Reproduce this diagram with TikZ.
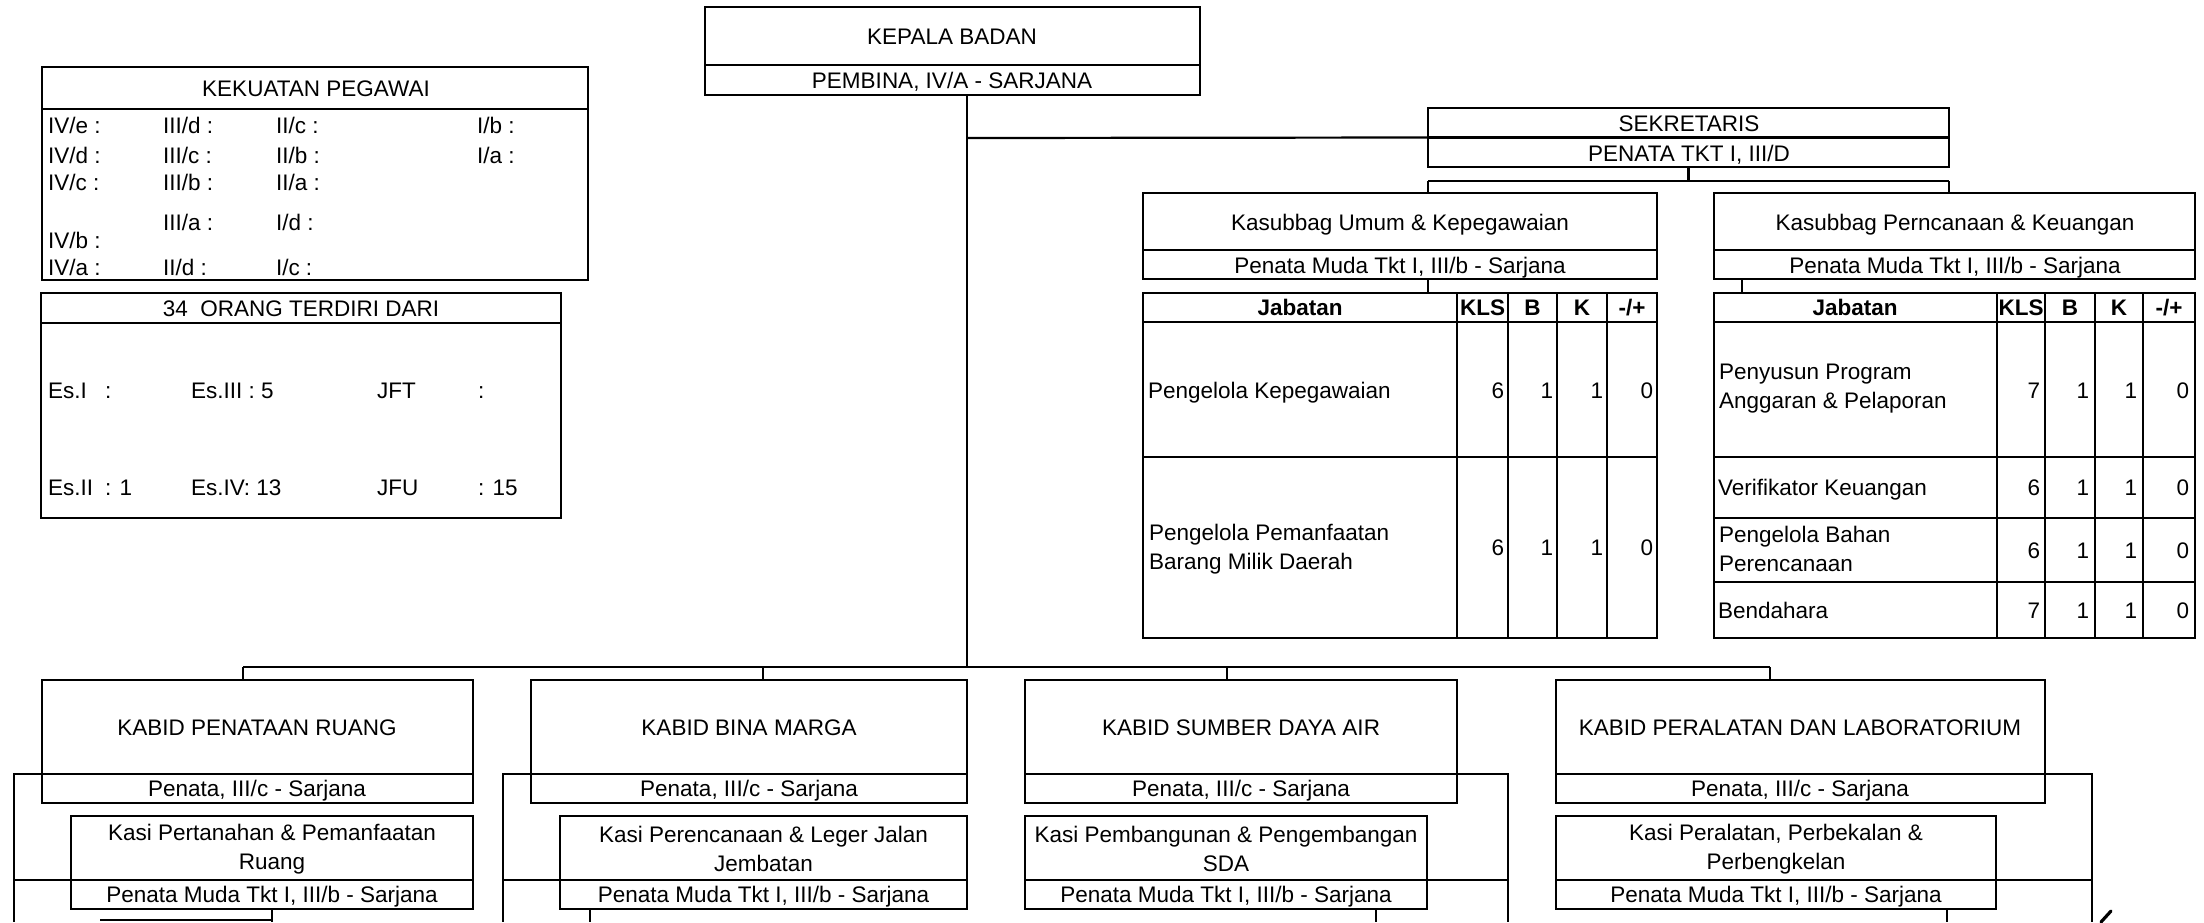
\documentclass[tikz,border=0pt]{standalone}
\usepackage{fontspec}
\setmainfont{Liberation Sans}
\usetikzlibrary{fit,calc}
\newcommand\myfs{\fontsize{11.25}{14.5}\selectfont}
\begin{document}
\begin{tikzpicture}[x=0.5pt,y=-0.5pt,line width=1.1pt,
  bx/.style={draw,inner sep=0pt,outer sep=0pt},
  t/.style={inner sep=0pt,outer sep=0pt,font=\myfs,text height=8pt,text depth=0pt},
  tl/.style={t,anchor=west},
  tr/.style={t,anchor=east},
  tb/.style={t,font=\myfs\bfseries},
  mc/.style={inner sep=0pt,font=\myfs,align=center},
  ml/.style={inner sep=0pt,font=\myfs,align=left,anchor=west}]
\fill[white] (0,0) rectangle (2204,922);
\useasboundingbox (0,0) rectangle (2204,922);

% ---------- KEPALA BADAN ----------
\node[bx,fit={(705,7)(1200,95)}] (kep) {};
\draw (kep.west |- 0,65) -- (kep.east |- 0,65);
\node[t] (kepT) at (952,36) {KEPALA BADAN};
\node[t] (kepS) at (952,80) {PEMBINA, IV/A - SARJANA};

% ---------- KEKUATAN PEGAWAI ----------
\node[bx,fit={(42,67)(588,280)}] (kek) {};
\draw (kek.west |- 0,109) -- (kek.east |- 0,109);
\node[t] (kekT) at (316,88) {KEKUATAN PEGAWAI};
\node[tl] (k1a) at (48,125) {IV/e :};
\node[tl] (k1b) at (163,125) {III/d :};
\node[tl] (k1c) at (276,125) {II/c :};
\node[tl] (k1d) at (477,125) {I/b :};
\node[tl] (k2a) at (48,155) {IV/d :};
\node[tl] (k2b) at (163,155) {III/c :};
\node[tl] (k2c) at (276,155) {II/b :};
\node[tl] (k2d) at (477,155) {I/a :};
\node[tl] (k3a) at (48,182) {IV/c :};
\node[tl] (k3b) at (163,182) {III/b :};
\node[tl] (k3c) at (276,182) {II/a :};
\node[tl] (k4b) at (163,222) {III/a :};
\node[tl] (k4c) at (276,222) {I/d :};
\node[tl] (k5a) at (48,240) {IV/b :};
\node[tl] (k6a) at (48,267) {IV/a :};
\node[tl] (k6b) at (163,267) {II/d :};
\node[tl] (k6c) at (276,267) {I/c :};

% ---------- 34 ORANG ----------
\node[bx,fit={(41,293)(561,518)}] (org) {};
\draw (org.west |- 0,323) -- (org.east |- 0,323);
\node[t] (orgT) at (301,308) {34\ \ ORANG TERDIRI DARI};
\node[tl] (o1a) at (48,390) {Es.I};
\node[tl] (o1b) at (105,390) {:};
\node[tl] (o1c) at (191,390) {Es.III : 5};
\node[tl] (o1d) at (377,390) {JFT};
\node[tl] (o1e) at (478,390) {:};
\node[tl] (o2a) at (48,487) {Es.II};
\node[tl] (o2b) at (105,487) {: 1};
\node[tl] (o2c) at (191,487) {Es.IV: 13};
\node[tl] (o2d) at (377,487) {JFU};
\node[tl] (o2e) at (478,487) {: 15};

% ---------- SEKRETARIS ----------
\node[bx,fit={(1428,108)(1949,167)}] (sek) {};
\draw (sek.west) -- (sek.east);
\node[t] (sekT) at (1689,123) {SEKRETARIS};
\node[t] (sekS) at (1689,153) {PENATA TKT I, III/D};

% ---------- KASUBBAG ----------
\node[bx,fit={(1143,193)(1657,279)}] (kum) {};
\draw (kum.west |- 0,250) -- (kum.east |- 0,250);
\node[t] (kumT) at (1400,222) {Kasubbag Umum \& Kepegawaian};
\node[t] (kumS) at (1400,265) {Penata Muda Tkt I, III/b - Sarjana};

\node[bx,fit={(1714,193)(2195,279)}] (kpk) {};
\draw (kpk.west |- 0,250) -- (kpk.east |- 0,250);
\node[t] (kpkT) at (1955,222) {Kasubbag Perncanaan \& Keuangan};
\node[t] (kpkS) at (1955,265) {Penata Muda Tkt I, III/b - Sarjana};

% ---------- left table ----------
\node[bx,fit={(1143,293)(1657,638)}] (tabL) {};
\foreach \yy in {322,457} \draw (1143,\yy) -- (1657,\yy);
\foreach \xx in {1457,1508,1557,1607} \draw (\xx,293) -- (\xx,638);
\node[tb] (lh1) at (1300,307.5) {Jabatan};
\node[tb] (lh2) at (1482.5,307.5) {KLS};
\node[tb] (lh3) at (1532.5,307.5) {B};
\node[tb] (lh4) at (1582,307.5) {K};
\node[tb] (lh5) at (1632,307.5) {-/+};
\node[tl] (lr1) at (1148,390) {Pengelola Kepegawaian};
\node[ml] (lr2) at (1148,549) {Pengelola Pemanfaatan\\Barang Milik Daerah};
\foreach \yy/\nm in {390/a,547/b}{
  \node[tr] (ln1\nm) at (1504,\yy) {6};
  \node[tr] (ln2\nm) at (1553,\yy) {1};
  \node[tr] (ln3\nm) at (1603,\yy) {1};
  \node[tr] (ln4\nm) at (1653,\yy) {0};
}

% ---------- right table ----------
\node[bx,fit={(1714,293)(2195,638)}] (tabR) {};
\foreach \yy in {322,457,518,582} \draw (1714,\yy) -- (2195,\yy);
\foreach \xx in {1997,2045,2095,2143} \draw (\xx,293) -- (\xx,638);
\node[tb] (rh1) at (1855,307.5) {Jabatan};
\node[tb] (rh2) at (2021,307.5) {KLS};
\node[tb] (rh3) at (2070,307.5) {B};
\node[tb] (rh4) at (2119,307.5) {K};
\node[tb] (rh5) at (2169,307.5) {-/+};
\node[ml] (rr1) at (1718,389) {Penyusun Program\\Anggaran \& Pelaporan};
\node[tl] (rr2) at (1718,487.5) {Verifikator Keuangan};
\node[ml] (rr3) at (1718,549) {Pengelola Bahan\\Perencanaan};
\node[tl] (rr4) at (1718,610) {Bendahara};
\foreach \yy/\k/\nm in {390/7/a,487.5/6/b,550/6/c,610/7/d}{
  \node[tr] (rn1\nm) at (2040,\yy) {\k};
  \node[tr] (rn2\nm) at (2089,\yy) {1};
  \node[tr] (rn3\nm) at (2137,\yy) {1};
  \node[tr] (rn4\nm) at (2189,\yy) {0};
}

% ---------- KABID ----------
\node[bx,fit={(42,680)(473,803)}] (kpr) {};
\draw (kpr.west |- 0,774) -- (kpr.east |- 0,774);
\node[t] (kprT) at (257,727) {KABID PENATAAN RUANG};
\node[t] (kprS) at (257,788.5) {Penata, III/c - Sarjana};

\node[bx,fit={(531,680)(967,803)}] (kbm) {};
\draw (kbm.west |- 0,774) -- (kbm.east |- 0,774);
\node[t] (kbmT) at (749,727) {KABID BINA MARGA};
\node[t] (kbmS) at (749,788.5) {Penata, III/c - Sarjana};

\node[bx,fit={(1025,680)(1457,803)}] (ksd) {};
\draw (ksd.west |- 0,774) -- (ksd.east |- 0,774);
\node[t] (ksdT) at (1241,727) {KABID SUMBER DAYA AIR};
\node[t] (ksdS) at (1241,788.5) {Penata, III/c - Sarjana};

\node[bx,fit={(1556,680)(2045,803)}] (kpl) {};
\draw (kpl.west |- 0,774) -- (kpl.east |- 0,774);
\node[t] (kplT) at (1800,727) {KABID PERALATAN DAN LABORATORIUM};
\node[t] (kplS) at (1800,788.5) {Penata, III/c - Sarjana};

% ---------- KASI ----------
\node[bx,fit={(71,816)(473,909)}] (spr) {};
\draw (spr.west |- 0,880) -- (spr.east |- 0,880);
\node[mc] (sprT) at (272,849) {Kasi Pertanahan \& Pemanfaatan\\Ruang};
\node[t] (sprS) at (272,894.5) {Penata Muda Tkt I, III/b - Sarjana};

\node[bx,fit={(560,816)(967,909)}] (sbm) {};
\draw (sbm.west |- 0,880) -- (sbm.east |- 0,880);
\node[mc] (sbmT) at (763.5,849) {Kasi Perencanaan \& Leger Jalan\\Jembatan};
\node[t] (sbmS) at (763.5,894.5) {Penata Muda Tkt I, III/b - Sarjana};

\node[bx,fit={(1025,816)(1427,909)}] (ssd) {};
\draw (ssd.west |- 0,880) -- (ssd.east |- 0,880);
\node[mc] (ssdT) at (1226,849) {Kasi Pembangunan \& Pengembangan\\SDA};
\node[t] (ssdS) at (1226,894.5) {Penata Muda Tkt I, III/b - Sarjana};

\node[bx,fit={(1556,816)(1996,909)}] (spl) {};
\draw (spl.west |- 0,880) -- (spl.east |- 0,880);
\node[mc] (splT) at (1776,849) {Kasi Peralatan, Perbekalan \&\\Perbengkelan};
\node[t] (splS) at (1776,894.5) {Penata Muda Tkt I, III/b - Sarjana};

% ---------- connectors ----------
\coordinate (tA) at (967,138);
\coordinate (tB) at (967,667);
\draw (kep.south -| tA) -- (tB);
\draw (tA) -- (sek.west);

\coordinate (s0) at (sek.south |- 0,181);
\draw (sek.south) -- (s0);
\draw (sek.south west |- s0) -- (sek.south east |- s0);
\draw (sek.south west |- s0) -- (sek.south west |- kum.north);
\draw (sek.south east |- s0) -- (sek.south east |- kpk.north);
\draw (1428,0 |- kum.south) -- (1428,0 |- tabL.north);
\draw (1742,0 |- kpk.south) -- (1742,0 |- tabR.north);

\coordinate (b1) at (243,667);
\coordinate (b2) at (763,667);
\coordinate (b3) at (1227,667);
\coordinate (b4) at (1770,667);
\draw (b1) -- (b4);
\draw (b1) -- (b1 |- kpr.north);
\draw (b2) -- (b2 |- kbm.north);
\draw (b3) -- (b3 |- ksd.north);
\draw (b4) -- (b4 |- kpl.north);

% side brackets
\draw (kpr.west |- 0,774) -- (14,774) -- (14,922);
\draw (14,880) -- (spr.west |- 0,880);
\draw (kbm.west |- 0,774) -- (503,774) -- (503,922);
\draw (503,880) -- (sbm.west |- 0,880);
\draw (ksd.east |- 0,774) -- (1508,774) -- (1508,922);
\draw (1508,880) -- (ssd.east |- 0,880);
\draw (kpl.east |- 0,774) -- (2092,774) -- (2092,922);
\draw (2092,880) -- (spl.east |- 0,880);

% drops below the Kasi boxes
\draw (272,0 |- spr.south) -- (272,922);
\draw (100,920) -- (272,920);
\draw (590,0 |- sbm.south) -- (590,922);
\draw (1376,0 |- ssd.south) -- (1376,922);
\draw (1947,0 |- spl.south) -- (1947,922);

% pen mark
\draw[line width=1.6pt,line cap=round] (2101,922) -- (2111,911);
\end{tikzpicture}
\end{document}
